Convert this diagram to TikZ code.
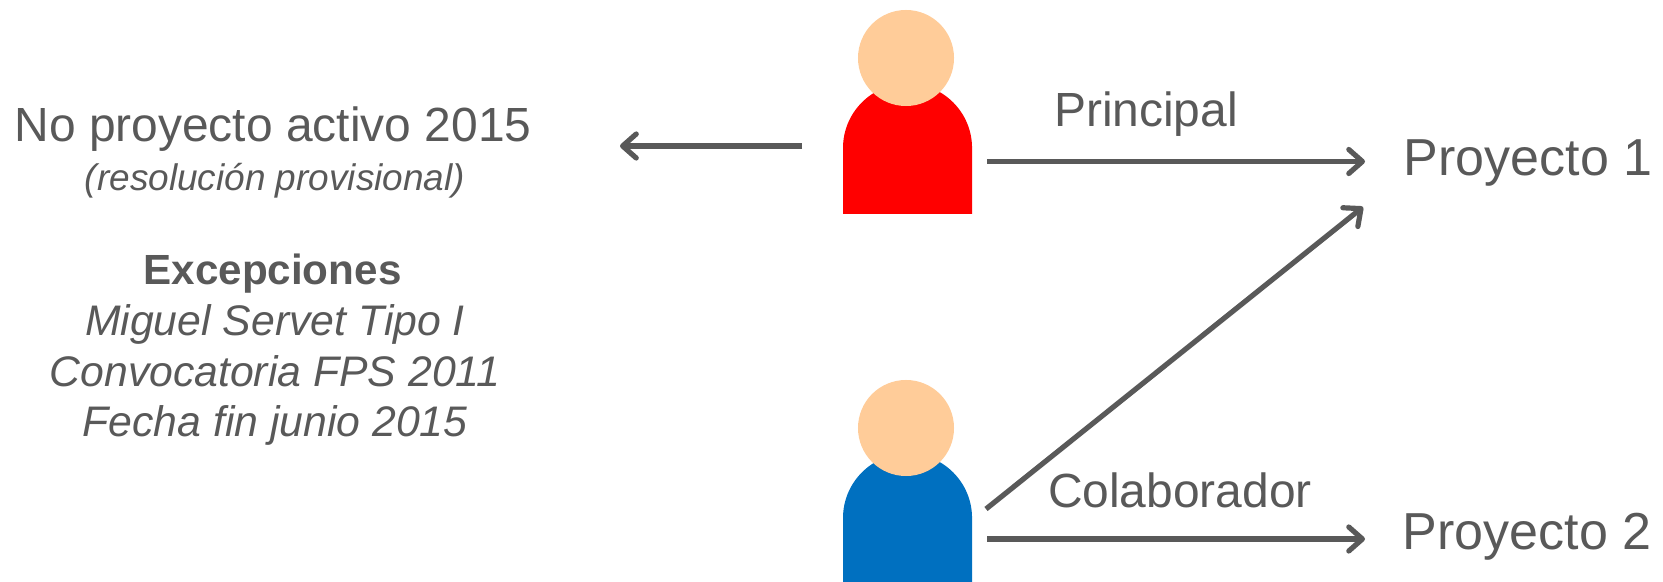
\documentclass[tikz,border=0pt]{standalone}
\usepackage{fontspec}
\setmainfont{Liberation Sans}
\usetikzlibrary{arrows.meta}
\definecolor{txtgray}{HTML}{595959}
\definecolor{skin}{HTML}{FFCC99}
\definecolor{bodyblue}{HTML}{0070C0}
\tikzset{
    head/.style={circle, fill=skin, inner sep=0pt, minimum size=2.4cm},
    base/.style={anchor=base, inner sep=0pt, text=txtgray},
    proj/.style={base, font=\fontsize{37}{37}\selectfont},
    role/.style={base, font=\fontsize{34.1}{34.1}\selectfont},
    note/.style={base, font=\fontsize{30.4}{30.4}\selectfont\itshape},
    link/.style={color=txtgray, line width=1.3mm, -{Straight Barb[length=3.4mm, width=6mm, line cap=round, line join=round]}},
}
\begin{document}
\begin{tikzpicture}[x=0.025cm, y=-0.025cm]
    \useasboundingbox (0,0) rectangle (1663,582);
    \fill[red] (843,214) -- (843,148) arc[start angle=180, end angle=0, radius=1.6125cm] -- (972,214) -- cycle;
    \fill[bodyblue] (843,582) -- (843,518) arc[start angle=180, end angle=0, radius=1.6125cm] -- (972,582) -- cycle;
    \node[head] (head1) at (906,58) {};
    \node[head] (head2) at (906,428) {};
    \node[base, font=\fontsize{34.1}{34.1}\selectfont] (noact) at (273,142) {No proyecto activo 2015};
    \node[base, font=\fontsize{26.3}{26.3}\selectfont\itshape] (resol) at (275,191) {(resolución provisional)};
    \node[base, font=\fontsize{30}{30}\selectfont\bfseries] (excep) at (272.5,285) {Excepciones};
    \node[note] (miguel) at (275,336) {Miguel Servet Tipo I};
    \node[note] (convoc) at (275,387) {Convocatoria FPS 2011};
    \node[note] (fecha) at (275,437) {Fecha fin junio 2015};
    \node[role] (princ) at (1146,127) {Principal};
    \node[role] (colab) at (1180,507) {Colaborador};
    \node[proj] (proj1) at (1528,176) {Proyecto 1};
    \node[proj] (proj2) at (1527,549) {Proyecto 2};
    \coordinate (p1l) at (802,146);
    \coordinate (p1r) at (987,161.5);
    \coordinate (p2d) at (986,509);
    \coordinate (p2r) at (987,539);
    \coordinate (noin) at (620,146);
    \coordinate (in1) at (1365,161.5);
    \coordinate (in1d) at (1363,207);
    \coordinate (in2) at (1365,539);
    \path (p1l) edge[link] (noin);
    \path (p1r) edge[link] (in1);
    \path (p2d) edge[link] (in1d);
    \path (p2r) edge[link] (in2);
\end{tikzpicture}
\end{document}
